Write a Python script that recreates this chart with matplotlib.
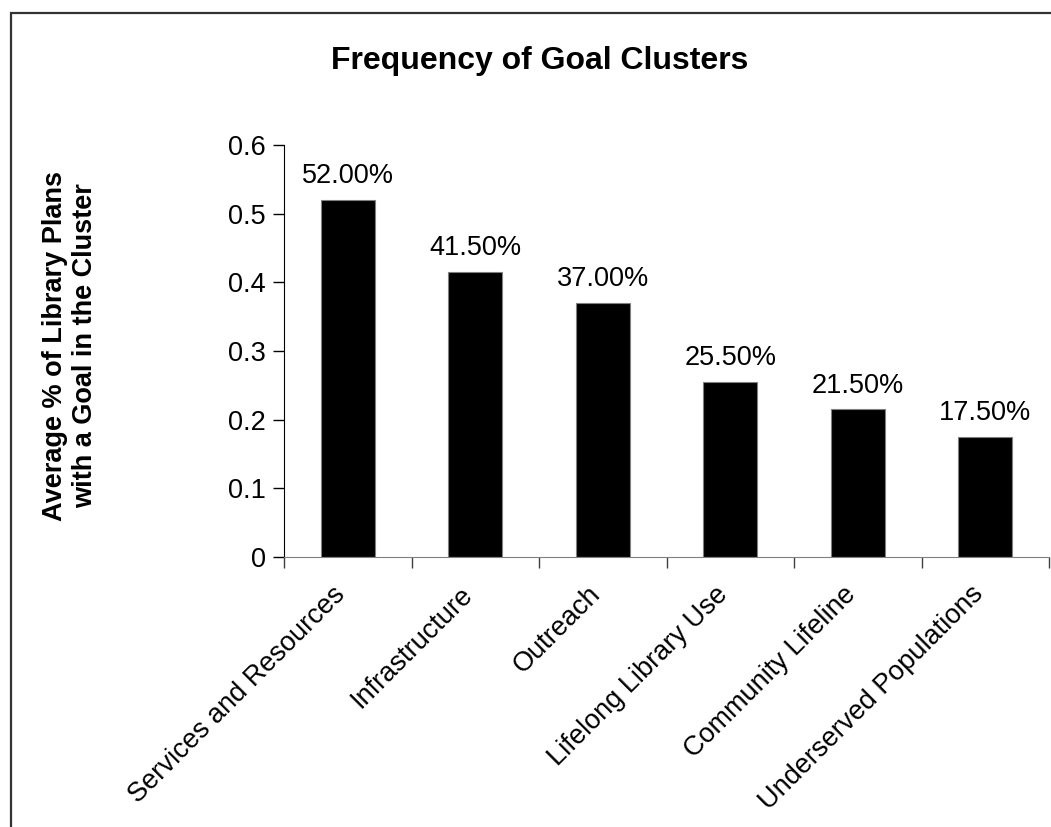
import matplotlib.pyplot as plt
import matplotlib.transforms as mtransforms
import numpy as np
from matplotlib.patches import Rectangle
from matplotlib.ticker import FixedLocator

plt.rcParams['font.family'] = ['Liberation Sans', 'DejaVu Sans']

clusters = ['Services and Resources', 'Infrastructure', 'Outreach',
            'Lifelong Library Use', 'Community Lifeline', 'Underserved Populations']
share = [0.52, 0.415, 0.37, 0.255, 0.215, 0.175]
yticks = [0, 0.1, 0.2, 0.3, 0.4, 0.5, 0.6]

W, H = 1051, 827
fig = plt.figure(figsize=(W / 100, H / 100), dpi=100)
ax = fig.add_axes([284 / W, (H - 557) / H, (1049 - 284) / W, (557 - 145) / H])

x = np.arange(len(clusters))
bars = ax.bar(x, share, width=0.42, color='black', edgecolor='#808080', linewidth=0.8)

for b, v in zip(bars, share):
    ax.annotate(f'{v * 100:.2f}%', (b.get_x() + b.get_width() / 2, v),
                xytext=(0, 12), textcoords='offset points',
                ha='center', va='baseline', fontsize=19.5)

ax.set_xlim(-0.5, len(clusters) - 0.5)
ax.set_ylim(0, 0.6)
ax.set_yticks(yticks)
ax.set_yticklabels(['0'] + [f'{t:.1f}' for t in yticks[1:]], fontsize=19.5)

# category labels at bar centres, tick marks between categories
ax.set_xticks(x)
ax.set_xticklabels(clusters, rotation=45, ha='right', va='center',
                   rotation_mode='anchor', fontsize=19.5)
ax.tick_params(axis='x', which='major', length=0, pad=24)
shift = mtransforms.ScaledTranslation(-6 / 100, 0, fig.dpi_scale_trans)
for lbl in ax.get_xticklabels():
    lbl.set_transform(lbl.get_transform() + shift)
ax.xaxis.set_minor_locator(FixedLocator(np.arange(-0.5, len(clusters), 1.0)))
ax.tick_params(axis='x', which='minor', length=8, width=1, color='#404040', direction='out')
ax.tick_params(axis='y', length=8, width=1, direction='out', pad=5)

for s in ['top', 'right']:
    ax.spines[s].set_visible(False)
ax.spines['left'].set_color('black')
ax.spines['bottom'].set_color('#808080')

fig.text(70 / W, (H - 346) / H, 'Average % of Library Plans\nwith a Goal in the Cluster',
         rotation=90, ha='center', va='center', fontsize=19.5,
         fontweight='bold', linespacing=1.2, multialignment='center')

fig.text(540 / W, (H - 69) / H, 'Frequency of Goal Clusters',
         ha='center', va='baseline', fontsize=23, fontweight='bold')

# chart area border
fig.patches.append(Rectangle((11 / W, -0.1), 1.2, (H - 13) / H + 0.1,
                             transform=fig.transFigure, fill=False,
                             edgecolor='#333333', linewidth=1.6))

fig.savefig('out.png', dpi=100)
